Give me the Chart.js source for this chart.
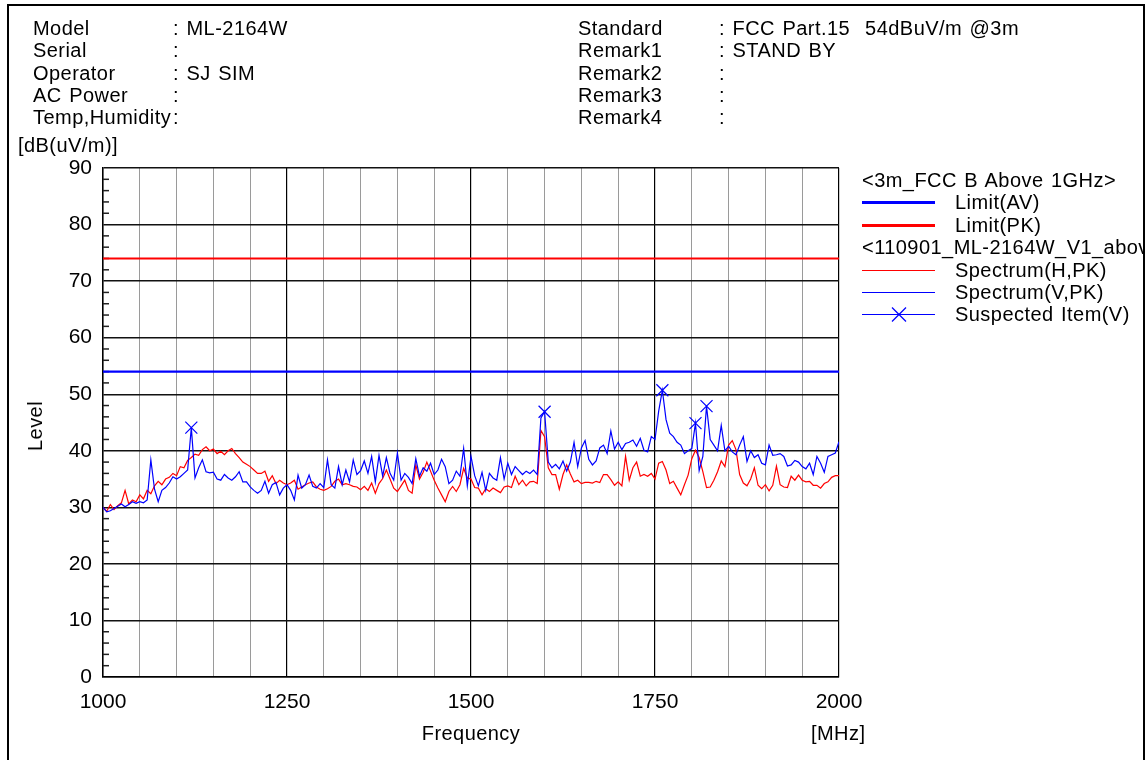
<!DOCTYPE html>
<html>
<head>
<meta charset="utf-8">
<script src="https://cdn.jsdelivr.net/npm/chart.js@4.4.0/dist/chart.umd.min.js"></script>
<style>
  body { margin: 0; background: #fff; font-family: "Liberation Sans", Arial, sans-serif; color: #000; }
  #page { position: relative; width: 1147px; height: 760px; overflow: hidden; background: #fff; }
  #frame { position: absolute; left: 7px; top: 4px; width: 1134px; height: 800px; border: 2px solid #000; pointer-events: none; }
  #chartBox { position: absolute; left: 0; top: 0; width: 1147px; height: 760px; }
  .t { position: absolute; font-size: 20px; line-height: 22px; white-space: pre; letter-spacing: 0.45px; word-spacing: 1.5px; }
  #legend { position: absolute; left: 862px; top: 169px; width: 281px; overflow: hidden; font-size: 20px; letter-spacing: 0.45px; word-spacing: 1.5px; }
  .lg { height: 22.4px; line-height: 22.4px; white-space: nowrap; position: relative; }
  .lg svg { position: absolute; left: 0; top: 0; }
  .lg span { position: absolute; left: 93px; top: 0; }
</style>
</head>
<body>
<div id="page">
  <div id="chartBox"><canvas id="emiChart"></canvas></div>

  <div class="t" style="left:33px; top:17px; line-height:22.3px;">Model
Serial
Operator
AC Power
Temp,Humidity</div>
  <div class="t" style="left:173px; top:17px; line-height:22.3px;">: ML-2164W
:
: SJ SIM
:
:</div>
  <div class="t" style="left:578px; top:17px; line-height:22.3px;">Standard
Remark1
Remark2
Remark3
Remark4</div>
  <div class="t" style="left:719px; top:17px; line-height:22.3px;">: FCC Part.15  54dBuV/m @3m
: STAND BY
:
:
:</div>

  <div class="t" style="left:18px; top:134px;">[dB(uV/m)]</div>
  <div class="t" style="left:35px; top:426px; transform: translate(-50%, -50%) rotate(-90deg);">Level</div>
  <div class="t" style="left:471px; top:722px; transform: translateX(-50%);">Frequency</div>
  <div class="t" style="left:811px; top:722px;">[MHz]</div>

  <div id="legend"></div>
  <div id="frame"></div>
</div>

<script>
// frequency grid of the two spectrum traces (MHz)
const freqStart = 1000;
const freqStep = 5;

// Spectrum(H,PK), dB(uV/m), one value every 5 MHz from 1000 to 2000
const spectrumH = [
  30.0, 29.3, 30.5, 29.6, 30.3, 30.8, 33.0, 30.6, 31.3, 31.0,
  32.2, 31.5, 33.0, 32.4, 33.8, 34.6, 34.0, 35.0, 35.3, 36.0,
  35.6, 37.2, 37.0, 38.3, 38.8, 39.4, 39.2, 40.2, 40.7, 40.0,
  40.3, 39.5, 39.9, 39.3, 40.0, 40.4, 39.5, 38.8, 38.0, 37.6,
  37.2, 36.6, 36.0, 36.0, 36.4, 34.6, 35.6, 34.2, 34.8, 34.3,
  34.0, 34.3, 34.8, 33.2, 33.6, 34.0, 34.3, 34.5, 33.6, 33.2,
  33.0, 33.3, 33.7, 34.6, 35.0, 34.0, 34.2, 34.0, 33.7, 33.6,
  33.1, 33.7, 33.0, 34.3, 32.5, 34.2, 35.1, 36.6, 35.0, 33.4,
  32.8, 33.8, 34.8, 33.0, 32.5, 37.5, 35.0, 36.2, 38.0, 36.4,
  34.8, 33.4, 32.2, 31.0, 32.8, 33.7, 32.8, 34.0, 36.9, 35.2,
  35.0, 33.5, 33.4, 32.2, 33.3, 32.8, 33.4, 33.0, 32.6, 33.6,
  33.8, 33.5, 35.5, 34.0, 34.8, 33.8, 34.5, 34.6, 34.2, 43.6,
  42.5, 37.0, 35.8, 35.8, 33.2, 35.8, 37.5, 35.9, 34.5, 34.8,
  34.2, 34.4, 34.4, 34.3, 34.6, 34.4, 35.8, 35.8, 34.9, 33.9,
  34.5, 33.8, 39.0, 34.8, 37.0, 38.0, 35.5, 35.8, 35.5, 36.0,
  35.0, 37.8, 38.1, 36.6, 34.2, 34.6, 33.4, 32.2, 34.0, 35.7,
  38.6, 40.1, 38.8, 36.3, 33.5, 33.6, 34.8, 36.3, 38.2, 37.2,
  41.0, 41.8, 40.2, 35.8, 34.3, 33.8, 35.0, 37.0, 33.9, 33.3,
  34.0, 32.9, 33.9, 37.3, 34.0, 33.6, 33.5, 35.5, 34.8, 35.7,
  34.8, 34.5, 34.6, 33.9, 33.9, 33.4, 34.2, 34.5, 35.3, 35.6,
  35.6
];

// Spectrum(V,PK), same grid
const spectrumV = [
  30.0, 29.2, 29.4, 29.8, 30.2, 30.6, 30.1, 30.5, 31.0, 30.7,
  31.0, 30.8, 31.3, 38.4, 33.2, 31.0, 33.0, 33.5, 34.3, 35.4,
  35.0, 35.4, 36.0, 36.6, 44.1, 35.2, 37.0, 38.4, 36.3, 36.1,
  36.2, 35.0, 34.8, 35.8, 35.2, 34.8, 35.4, 36.3, 34.5, 34.5,
  33.6, 33.0, 32.5, 33.0, 34.6, 32.5, 34.0, 34.4, 32.2, 33.4,
  34.0, 33.0, 31.3, 35.7, 33.4, 34.0, 35.7, 33.7, 33.4, 34.2,
  33.5, 38.4, 34.0, 33.4, 37.2, 34.0, 36.6, 34.5, 38.4, 35.8,
  36.5, 38.2, 36.0, 39.0, 34.5, 39.2, 35.5, 38.8, 36.0, 34.8,
  39.6, 34.8, 36.0, 35.3, 34.2, 38.6, 35.5, 37.0, 36.4, 37.8,
  35.8, 36.6, 38.5, 37.2, 34.2, 34.8, 36.4, 35.5, 40.4, 33.8,
  39.0, 35.6, 33.8, 36.2, 33.0, 36.0, 35.2, 34.8, 38.8, 35.0,
  37.8, 35.8, 37.2, 36.5, 35.8, 36.4, 36.0, 36.6, 35.8, 45.8,
  46.9, 38.0, 37.0, 37.6, 36.8, 38.2, 36.4, 38.0, 41.5, 37.2,
  40.5, 41.8, 38.5, 37.5, 38.2, 40.5, 41.0, 39.5, 43.5, 40.3,
  41.5, 40.2, 41.3, 41.5, 41.9, 40.8, 42.2, 40.1, 39.8, 42.5,
  42.0, 47.0, 50.7, 45.5, 43.1, 42.5, 41.5, 41.0, 39.5, 40.0,
  40.4, 44.9, 36.5, 39.0, 47.9, 42.0, 41.0, 40.0, 44.5, 40.0,
  40.8, 39.8, 39.3, 41.0, 42.5, 38.1, 40.0, 38.8, 39.3, 37.8,
  37.5, 41.0, 39.2, 39.3, 39.5, 39.0, 37.3, 37.5, 38.3, 38.0,
  37.2, 36.8, 37.8, 35.8, 39.0, 37.8, 36.2, 39.0, 39.3, 39.6,
  41.6
];

// Suspected Item(V)
const suspectFreq = [1120, 1600, 1760, 1805, 1820];
const suspectLevel = [44.1, 46.9, 50.7, 44.9, 47.9];

// limit lines
const limitFreq = [1000, 2000];
const limitAV = [54, 54];
const limitPK = [74, 74];

const xTickLabels = [1000, 1250, 1500, 1750, 2000];

const toPoints = (values) => values.map((v, i) => ({ x: freqStart + i * freqStep, y: v }));
const pair = (xs, ys) => xs.map((x, i) => ({ x: x, y: ys[i] }));

// small inside tick marks on the level axis every 2 dB
const minorTicks = {
    id: 'minorTicks',
    beforeDatasetsDraw(chart) {
        const { ctx, chartArea, scales } = chart;
        ctx.save();
        ctx.strokeStyle = '#222';
        ctx.lineWidth = 1.5;
        for (let v = 2; v < 90; v += 2) {
            if (v % 10 === 0) continue;
            const py = scales.y.getPixelForValue(v);
            ctx.beginPath();
            ctx.moveTo(chartArea.left, py);
            ctx.lineTo(chartArea.left + 6, py);
            ctx.stroke();
        }
        ctx.restore();
    }
};

const datasets = [
    { label: 'Limit(AV)', group: '<3m_FCC B Above 1GHz>', data: pair(limitFreq, limitAV),
      borderColor: '#0000ff', borderWidth: 2.2, pointRadius: 0, order: 3 },
    { label: 'Limit(PK)', data: pair(limitFreq, limitPK),
      borderColor: '#ff0000', borderWidth: 2.2, pointRadius: 0, order: 3 },
    { label: 'Spectrum(H,PK)', group: '<110901_ML-2164W_V1_above1G>', data: toPoints(spectrumH),
      borderColor: '#ff0000', borderWidth: 1.2, pointRadius: 0, order: 2 },
    { label: 'Spectrum(V,PK)', data: toPoints(spectrumV),
      borderColor: '#0000ff', borderWidth: 1.2, pointRadius: 0, order: 1 },
    { label: 'Suspected Item(V)', data: pair(suspectFreq, suspectLevel),
      borderColor: '#0000ff', backgroundColor: '#0000ff', showLine: false,
      pointStyle: 'crossRot', pointRadius: 8.5, pointBorderWidth: 1.2, order: 0 }
];

const tickFont = { family: '"Liberation Sans", Arial, sans-serif', size: 21 };

new Chart(document.getElementById('emiChart'), {
    type: 'line',
    data: { datasets: datasets },
    options: {
        responsive: true,
        maintainAspectRatio: false,
        animation: false,
        layout: { padding: { left: 43, right: 308, top: 168, bottom: 33 } },
        plugins: { legend: { display: false }, tooltip: { enabled: false } },
        elements: { line: { tension: 0 } },
        scales: {
            x: {
                type: 'linear',
                min: 1000,
                max: 2000,
                afterFit: (scale) => { scale.height = 50; },
                afterBuildTicks: (scale) => {
                    const ticks = [];
                    for (let v = 1000; v <= 2000; v += 50) ticks.push({ value: v });
                    scale.ticks = ticks;
                },
                ticks: {
                    autoSkip: false,
                    maxRotation: 0,
                    padding: 13,
                    color: '#000',
                    font: tickFont,
                    callback: (v) => xTickLabels.includes(v) ? String(v) : ''
                },
                grid: {
                    drawTicks: false,
                    color: (c) => (c.tick && c.tick.value % 250 === 0) ? '#000' : '#9a9a9a',
                    lineWidth: (c) => (c.tick && c.tick.value % 250 === 0) ? 1.2 : 1
                },
                border: { display: true, color: '#000', width: 1.5 }
            },
            y: {
                min: 0,
                max: 90,
                afterFit: (scale) => { scale.width = 60; },
                ticks: {
                    stepSize: 10,
                    padding: 11,
                    color: '#000',
                    font: tickFont
                },
                grid: { drawTicks: false, color: '#111', lineWidth: 1.4 },
                border: { display: true, color: '#000', width: 1.5 }
            }
        }
    },
    plugins: [minorTicks]
});

// legend built from the datasets, with the group headers
const legend = document.getElementById('legend');
datasets.forEach((ds) => {
    if (ds.group) {
        const head = document.createElement('div');
        head.className = 'lg';
        head.textContent = ds.group;
        legend.appendChild(head);
    }
    const row = document.createElement('div');
    row.className = 'lg';
    let svg = '<svg width="74" height="22" xmlns="http://www.w3.org/2000/svg">' +
        '<line x1="0" y1="11.5" x2="73" y2="11.5" stroke="' + ds.borderColor + '" stroke-width="' + (ds.label.startsWith('Limit') ? 3 : 1) + '"/>';
    if (ds.pointStyle === 'crossRot') {
        svg += '<line x1="30" y1="4.5" x2="44" y2="18.5" stroke="#0000ff" stroke-width="1.2"/>' +
               '<line x1="44" y1="4.5" x2="30" y2="18.5" stroke="#0000ff" stroke-width="1.2"/>';
    }
    svg += '</svg>';
    row.innerHTML = svg;
    const label = document.createElement('span');
    label.textContent = ds.label;
    row.appendChild(label);
    legend.appendChild(row);
});
</script>
</body>
</html>
